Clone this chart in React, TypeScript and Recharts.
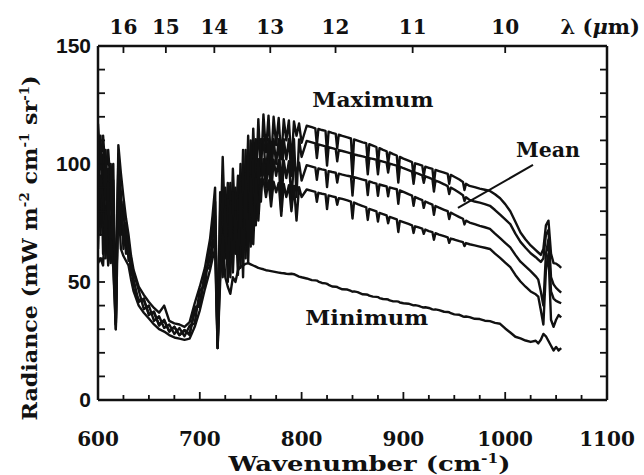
import React from 'react';
import { LineChart, Line, XAxis, YAxis, ReferenceLine, ReferenceDot, Label } from 'recharts';

const INK = '#111111';
const SERIF = '"DejaVu Serif", serif';
const SANS = '"Liberation Sans", Arial, sans-serif';

// Wavenumber grid (cm^-1)
const wavenumber = [600, 602.5, 605, 607.5, 610, 612.5, 615, 617.5, 620, 622.5, 625, 627.5, 630, 632.5, 635,
  640, 645, 650, 655, 660, 665, 670, 675, 680, 685, 690, 695, 700, 705, 710,
  712.5, 715, 717.5, 720, 722.5, 725, 727.5, 730, 732.5, 735, 737.5, 740, 742.5, 745, 747.5, 750, 752.5, 755, 757.5, 760,
  762.5, 765, 767.5, 770, 772.5, 775, 777.5, 780, 782.5, 785, 787.5, 790, 792.5, 795, 797.5, 800,
  805, 810, 813.5, 815, 816.5, 820, 823.5, 825, 826.5, 830,
  833.5, 835, 836.5, 840, 845, 848.5, 850, 851.5, 855, 860,
  863.5, 865, 866.5, 870, 873.5, 875, 876.5, 880, 883.5, 885,
  886.5, 890, 893.5, 895, 896.5, 900, 905, 908.5, 910, 911.5,
  915, 918.5, 920, 921.5, 925, 928.5, 930, 931.5, 935, 940,
  943.5, 945, 946.5, 950, 955, 958.5, 960, 961.5, 965, 970,
  975, 980, 985, 990, 995, 1000, 1005, 1010, 1015, 1020, 1025, 1030,
  1032.5, 1035, 1037.5, 1040, 1042.5, 1045, 1047.5, 1050, 1052.5, 1055];

// Radiance (mW m^-2 cm^-1 sr^-1)
const maximum = [117, 100, 112, 95, 106, 90, 100, 32, 108, 96, 86, 77, 70, 61, 55,
  48, 44.5, 41.5, 39, 37, 40, 33.5, 32.5, 32, 31, 33, 41, 48, 56, 68,
  78, 90, 24, 62, 103, 70, 92, 60, 98, 72, 95, 65, 106, 75, 112, 80, 115, 88, 119, 95,
  121, 105, 120.5, 100, 120, 108, 119.5, 102, 119, 110, 118.5, 100, 118, 112, 117.2, 109,
  116.2, 115.6, 115.1, 108, 114.9, 114.4, 114, 104.8, 113.7, 113.2,
  112.8, 106.6, 112.4, 111.9, 111.3, 110.8, 98.6, 110.4, 109.9, 109.2,
  108.8, 100.6, 108.4, 107.8, 107.2, 99.9, 106.7, 106, 105.4, 100.1,
  104.9, 104.2, 103.6, 95.3, 103, 102.3, 101.4, 100.8, 94.5, 100.3,
  99.8, 99.3, 95.1, 98.9, 98.4, 97.9, 91.7, 97.5, 97, 96.3,
  95.8, 91.6, 95.4, 94.6, 93.4, 92.4, 89, 91.6, 90.7, 90.2,
  89.6, 89.1, 88.6, 87.2, 85.5, 83, 80, 75.5, 71, 68, 65.5, 63.5,
  62.5, 61.5, 64, 74, 76, 62, 58, 57.8, 57, 56];

const upper = [108, 70, 104, 66, 98, 62, 93, 30, 104, 70, 84, 62, 68, 53, 54,
  46.5, 38.5, 40, 33.5, 35.5, 30.5, 32, 28, 30.5, 27, 31.5, 32.5, 46.5, 48.5, 66,
  72, 84, 23, 88, 60, 90, 58, 92, 62, 90, 62, 100, 60, 106, 68, 110, 76, 110.5, 84, 110.5,
  110.5, 95, 110.5, 92, 110.5, 100, 110.5, 88, 110.5, 102, 110.5, 95, 110.5, 86, 110.4, 103,
  109.8, 109.2, 108.7, 102.5, 108.3, 107.9, 107.5, 99.3, 107.1, 106.7,
  106.3, 101.1, 105.9, 105.5, 104.9, 104.5, 94.3, 104.1, 103.7, 103.2,
  102.8, 95.6, 102.5, 102.2, 101.8, 95.6, 101.4, 101, 100.6, 96.4,
  100.2, 99.7, 99.3, 92.1, 98.9, 98.2, 97.4, 96.8, 91.6, 96.4,
  95.8, 95.2, 92, 94.8, 94.2, 93.6, 88.3, 93, 92.4, 91.4,
  90.6, 87.3, 90, 89.2, 87.8, 86.8, 84.3, 85.9, 84.8, 84.1,
  83.6, 83, 82.3, 80.5, 78.5, 76.5, 74.5, 70.5, 67, 64.5, 62.2, 60.5,
  59.5, 58.5, 60, 70, 72, 52, 49, 47.5, 46.5, 45.5];

const mean = [90, 112, 62, 106, 60, 100, 58, 32, 100, 88, 64, 75, 59, 60, 47,
  42.5, 42.2, 36.5, 37, 32, 33.7, 29, 31, 27.5, 29.7, 28, 37.5, 41.5, 53, 60,
  68, 78, 22, 55, 90, 60, 85, 52, 88, 62, 85, 56, 98, 60, 104, 65, 102, 74, 102, 84,
  102, 90, 102, 86, 101.8, 95, 101.6, 80, 101.5, 94, 101.2, 85, 101, 96, 100.6, 93,
  99.5, 98.9, 98.5, 93.3, 98.1, 97.7, 97.4, 90.2, 97, 96.6,
  96.3, 92.1, 95.9, 95.5, 95, 94.7, 86.6, 94.4, 94, 93.4,
  93, 86.8, 92.6, 92.1, 91.7, 86.5, 91.3, 90.9, 90.5, 86.3,
  90.1, 89.7, 89.3, 83.1, 88.8, 88.2, 87.2, 86.6, 82.3, 86,
  85.3, 84.7, 81.4, 84.1, 83.4, 82.8, 78.5, 82.2, 81.5, 80.6,
  80, 76.7, 79.4, 78.6, 77.5, 76.8, 74.4, 76, 75.2, 74.5,
  73.8, 73.2, 72.5, 70.5, 68.6, 66.6, 64.7, 61.5, 58.6, 56.6, 54.6, 52.4,
  51, 46, 40, 62, 68, 46, 43, 42, 41.5, 41];

const lower = [64, 95, 85, 60, 92, 58, 85, 34, 95, 80, 72, 68, 63, 56, 51,
  41.5, 43, 36, 37.5, 31.5, 34, 29, 31, 27.5, 29.5, 27.5, 39.5, 39.5, 54.5, 56.5,
  64, 70, 22, 80, 52, 82, 50, 84, 54, 80, 53, 92, 52, 96, 58, 95, 66, 94, 76, 93.5,
  93.5, 86, 93, 82, 92.5, 88, 92, 78, 91.5, 86, 91, 80, 90.7, 76, 90.2, 86,
  89.2, 88.6, 88.2, 84, 87.8, 87.4, 87.1, 80.9, 86.7, 86.3,
  85.9, 82.7, 85.5, 85.2, 84.6, 84.1, 76.9, 83.7, 83, 82.2,
  81.6, 76.3, 81, 80.5, 79.9, 75.6, 79.3, 78.8, 78.2, 74.9,
  77.6, 77.1, 76.5, 71.2, 75.9, 75.4, 74.6, 74, 70.8, 73.6,
  73.1, 72.6, 70.4, 72.2, 71.6, 71.1, 67.9, 70.7, 70.1, 69.4,
  68.9, 66.6, 68.4, 68, 67.3, 66.9, 65.2, 66.5, 66, 65.5,
  65, 64.5, 64, 62, 60.2, 58.2, 56.3, 53, 50.2, 48, 46, 44.8,
  43.8, 38, 32, 55, 62, 34, 31, 34, 36, 35];

const minimum = [58, 60, 57, 80, 57, 68, 56, 30, 85, 64, 61, 59, 57, 51, 46,
  40, 37, 34.5, 32, 30, 29, 27.5, 26.5, 26, 25.5, 26, 31, 38, 47, 55,
  60, 64, 22, 50, 70, 52, 48, 45, 52, 50, 55, 56.5, 57, 57.7, 58, 57.5, 57, 56.5, 56, 55.7,
  55.4, 55, 54.8, 54.6, 54.4, 54.2, 54, 53.8, 53.7, 53.5, 53.4, 53.5, 53.3, 52.8, 52.3, 52,
  51.5, 50.8, 50.7, 50.6, 50.2, 49.6, 49.4, 49.2, 48.8, 48.1,
  48, 47.9, 47.5, 46.9, 46.8, 46.2, 45.9, 46, 45.7, 44.8,
  44.7, 44.6, 44.2, 43.8, 43.7, 43.6, 43.2, 42.8, 42.7, 42.6,
  42.2, 41.8, 41.8, 41.7, 41.3, 41, 40.8, 40.3, 40.1, 40.2,
  39.9, 39.3, 39.2, 39.3, 39, 38.4, 38.3, 38.4, 38.1, 37.4,
  37.3, 37.2, 36.8, 36.3, 36.1, 35.4, 35.3, 35.4, 35.1, 34.4,
  34.3, 33.6, 33.4, 32.7, 32.3, 30.3, 28.6, 26.8, 26.1, 25.2, 24.6, 25.1,
  24, 25.5, 28, 27, 25, 23, 21, 22.5, 21, 22];

// Axes
const bottomTicks = [600, 625, 650, 675, 700, 725, 750, 775, 800, 825, 850, 875, 900, 925, 950, 975, 1000, 1025, 1050, 1075, 1100];
const bottomTickLabels = [600, 700, 800, 900, 1000, 1100];
const yTicks = [0, 10, 20, 30, 40, 50, 60, 70, 80, 90, 100, 110, 120, 130, 140, 150];
const yTickLabels = [0, 50, 100, 150];
const wavelengthLabels = [16, 15, 14, 13, 12, 11, 10];
const wavelengthTicks = wavelengthLabels.map((l) => 10000 / l);

// Annotations (data coordinates)
const annotationText = ['Maximum', 'Mean', 'Minimum'];
const annotationWn = [870, 1042, 864];
const annotationRad = [127, 106, 34.7];
const annotationWidth = [121, 64, 123];
const meanPointer = [{ x: 1027.3, y: 99.6 }, { x: 953.6, y: 81.4 }];

const data = wavenumber.map((wn, i) => ({
  wn,
  maximum: maximum[i],
  upper: upper[i],
  mean: mean[i],
  lower: lower[i],
  minimum: minimum[i],
}));

const BottomTick = (props: any) => {
  const { x, y, payload } = props;
  const major = bottomTickLabels.includes(payload.value);
  return (
    <g>
      <line x1={x} y1={y} x2={x} y2={y - (major ? 8 : 5)} stroke={INK} strokeWidth={1.8} />
      {major && (
        <text x={x} y={y + 46} textAnchor="middle" fontFamily={SERIF} fontWeight="bold" fontSize={20} fill={INK}>
          {payload.value}
        </text>
      )}
    </g>
  );
};

const TopTick = (props: any) => {
  const { x, y, index } = props;
  return (
    <g>
      <line x1={x} y1={y} x2={x} y2={y + 7} stroke={INK} strokeWidth={1.8} />
      <text x={x} y={y - 12} textAnchor="middle" fontFamily={SERIF} fontWeight="bold" fontSize={20} fill={INK}>
        {wavelengthLabels[index]}
      </text>
    </g>
  );
};

const LeftTick = (props: any) => {
  const { x, y, payload } = props;
  const major = yTickLabels.includes(payload.value);
  return (
    <g>
      <line x1={x} y1={y} x2={x + 7} y2={y} stroke={INK} strokeWidth={1.8} />
      {major && (
        <text x={x - 7} y={y + 7} textAnchor="end" fontFamily={SANS} fontWeight="bold" fontSize={21} fill={INK}>
          {payload.value}
        </text>
      )}
    </g>
  );
};

const RightTick = (props: any) => {
  const { x, y } = props;
  return <line x1={x} y1={y} x2={x - 7} y2={y} stroke={INK} strokeWidth={1.8} />;
};

const BottomTitle = (props: any) => {
  const vb = props.viewBox;
  const cx = vb.x + vb.width / 2 + 17;
  return (
    <text x={cx} y={vb.y + 71} textAnchor="middle" fontFamily={SERIF} fontWeight="bold" fontSize={20} fill={INK}
      textLength={282} lengthAdjust="spacingAndGlyphs">
      <tspan>Wavenumber (cm</tspan>
      <tspan dy={-8} fontSize={12}>-1</tspan>
      <tspan dy={8}>)</tspan>
    </text>
  );
};

const LeftTitle = (props: any) => {
  const cx = 37;
  const cy = 248;
  return (
    <text x={cx} y={cy} transform={`rotate(-90 ${cx} ${cy})`} textAnchor="middle" fontFamily={SERIF} fontWeight="bold" fontSize={20} fill={INK}
      textLength={345} lengthAdjust="spacingAndGlyphs">
      <tspan>Radiance (mW m</tspan>
      <tspan dy={-8} fontSize={12}>-2</tspan>
      <tspan dy={8}> cm</tspan>
      <tspan dy={-8} fontSize={12}>-1</tspan>
      <tspan dy={8}> sr</tspan>
      <tspan dy={-8} fontSize={12}>-1</tspan>
      <tspan dy={8}>)</tspan>
    </text>
  );
};

const TopTitle = (props: any) => {
  const vb = props.viewBox;
  return (
    <text x={vb.x + vb.width + 33} y={vb.y + vb.height - 12} textAnchor="end" fontFamily={SERIF} fontWeight="bold" fontSize={21} fill={INK}>
      <tspan>λ (</tspan>
      <tspan fontStyle="italic">μ</tspan>
      <tspan>m)</tspan>
    </text>
  );
};

const annotationLabel = (i: number) => (props: any) => {
  const vb = props.viewBox;
  const cx = vb.x + vb.width / 2;
  const cy = vb.y + vb.height / 2;
  return (
    <text x={cx} y={cy + 7} textAnchor="middle" fontFamily={SERIF} fontWeight="bold" fontSize={20} fill={INK}
      textLength={annotationWidth[i]} lengthAdjust="spacingAndGlyphs">
      {annotationText[i]}
    </text>
  );
};

const seriesKeys = ['maximum', 'upper', 'mean', 'lower', 'minimum'];

export default function App() {
  return (
    <div style={{ position: 'absolute', left: 0, top: 0, width: 644, height: 475, background: '#ffffff' }}>
      <LineChart width={644} height={475} data={data} margin={{ top: 6, right: 7, bottom: 5, left: 0 }}>
        <XAxis xAxisId="bottom" dataKey="wn" type="number" domain={[600, 1100]} ticks={bottomTicks} interval={0}
          orientation="bottom" height={70} tickSize={0} tickMargin={0} tick={<BottomTick />}
          axisLine={{ stroke: INK, strokeWidth: 2.5 }} tickLine={false} allowDataOverflow>
          <Label content={<BottomTitle />} />
        </XAxis>
        <XAxis xAxisId="top" dataKey="wn" type="number" domain={[600, 1100]} ticks={wavelengthTicks} interval={0}
          orientation="top" height={40} tickSize={0} tickMargin={0} tick={<TopTick />}
          axisLine={{ stroke: INK, strokeWidth: 2.5 }} tickLine={false} allowDataOverflow>
          <Label content={<TopTitle />} />
        </XAxis>
        <YAxis yAxisId="left" type="number" domain={[0, 150]} ticks={yTicks} interval={0} width={98}
          orientation="left" tickSize={0} tickMargin={0} tick={<LeftTick />}
          axisLine={{ stroke: INK, strokeWidth: 2.5 }} tickLine={false} allowDataOverflow>
          <Label content={<LeftTitle />} />
        </YAxis>
        <YAxis yAxisId="right" type="number" domain={[0, 150]} ticks={yTicks} interval={0} width={30}
          orientation="right" tickSize={0} tickMargin={0} tick={<RightTick />}
          axisLine={{ stroke: INK, strokeWidth: 2.5 }} tickLine={false} allowDataOverflow />
        {seriesKeys.map((k) => (
          <Line key={k} xAxisId="bottom" yAxisId="left" type="linear" dataKey={k} stroke={INK} strokeWidth={2.4}
            strokeLinejoin="round" dot={false} activeDot={false} isAnimationActive={false} />
        ))}
        <ReferenceLine xAxisId="bottom" yAxisId="left" segment={meanPointer} stroke={INK} strokeWidth={2} />
        {annotationText.map((t, i) => (
          <ReferenceDot key={t} xAxisId="bottom" yAxisId="left" x={annotationWn[i]} y={annotationRad[i]} r={1}
            fill="none" stroke="none" label={annotationLabel(i)} />
        ))}
      </LineChart>
    </div>
  );
}
